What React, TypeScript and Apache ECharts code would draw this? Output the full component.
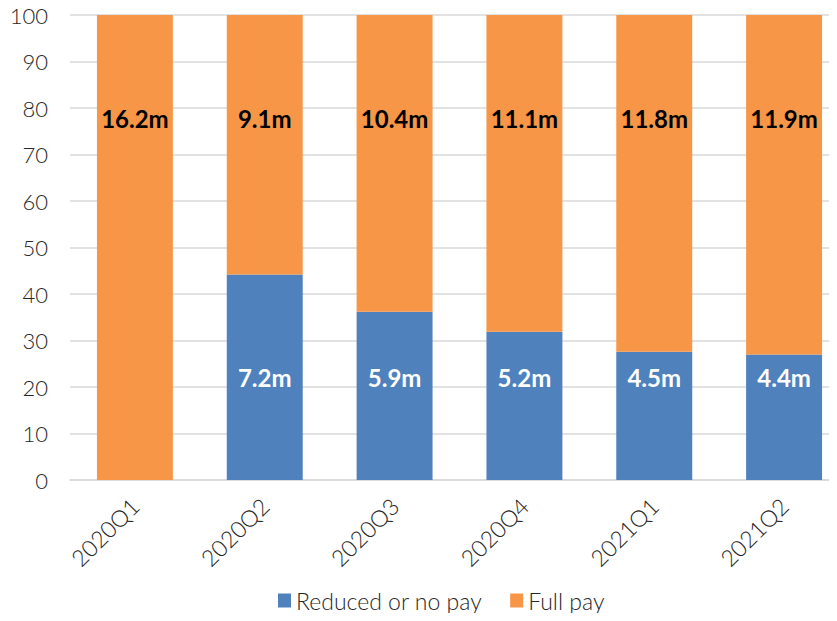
import React, { useEffect, useRef } from "react";
import * as echarts from "echarts";

const categories = ["2020Q1", "2020Q2", "2020Q3", "2020Q4", "2021Q1", "2021Q2"];
const reducedShare = [0, 44.2, 36.2, 31.9, 27.6, 27.0];
const fullShare = [100, 55.8, 63.8, 68.1, 72.4, 73.0];
const reducedMillions = [null, 7.2, 5.9, 5.2, 4.5, 4.4];
const fullMillions = [16.2, 9.1, 10.4, 11.1, 11.8, 11.9];
const seriesNames = ["Reduced or no pay", "Full pay"];

const FONT = "Lato, 'Open Sans', sans-serif";

export default function App() {
  const ref = useRef<HTMLDivElement>(null);
  useEffect(() => {
    if (!ref.current) return;
    const chart = echarts.init(ref.current, null, { renderer: "svg" });
    chart.setOption({
      animation: false,
      textStyle: { fontFamily: FONT },
      grid: {
        left: 70,
        width: 779,
        top: 15,
        bottom: 141,
        containLabel: false,
        outerBoundsMode: "none",
      },
      legend: {
        bottom: 4,
        left: 273,
        icon: "rect",
        itemWidth: 13,
        itemHeight: 14,
        itemGap: 28,
        textStyle: { fontSize: 23, color: "#262626", fontWeight: 300, fontFamily: FONT },
        data: seriesNames,
      },
      xAxis: {
        type: "category",
        data: categories,
        axisLine: { lineStyle: { color: "#d9d9d9", width: 1.5 } },
        axisTick: { show: false },
        axisLabel: {
          rotate: 45,
          fontSize: 23,
          margin: 22,
          color: "#262626",
          fontWeight: 300,
          fontFamily: FONT,
        },
      },
      yAxis: {
        type: "value",
        min: 0,
        max: 100,
        interval: 10,
        axisLine: { show: false },
        axisTick: { show: false },
        splitLine: { lineStyle: { color: "#d9d9d9", width: 1.5 } },
        axisLabel: {
          fontSize: 22,
          margin: 22,
          color: "#262626",
          fontWeight: 300,
          fontFamily: FONT,
        },
      },
      series: [
        {
          name: seriesNames[0],
          type: "bar",
          stack: "a",
          barWidth: "58.5%",
          itemStyle: { color: "#4F81BD" },
          data: reducedShare,
          label: {
            show: true,
            position: "insideBottom",
            offset: [0, -86],
            fontSize: 24,
            fontWeight: "bold",
            color: "#ffffff",
            fontFamily: FONT,
            formatter: (p: any) => {
              const v = reducedMillions[p.dataIndex];
              return v == null ? "" : v.toFixed(1) + "m";
            },
          },
        },
        {
          name: seriesNames[1],
          type: "bar",
          stack: "a",
          barWidth: "58.5%",
          itemStyle: { color: "#F79646" },
          data: fullShare,
          label: {
            show: true,
            position: "insideTop",
            offset: [0, 86],
            fontSize: 24,
            fontWeight: "bold",
            color: "#000000",
            fontFamily: FONT,
            formatter: (p: any) => fullMillions[p.dataIndex].toFixed(1) + "m",
          },
        },
      ],
    });
    return () => chart.dispose();
  }, []);
  return <div ref={ref} style={{ width: 837, height: 621, margin: -8 }} />;
}
